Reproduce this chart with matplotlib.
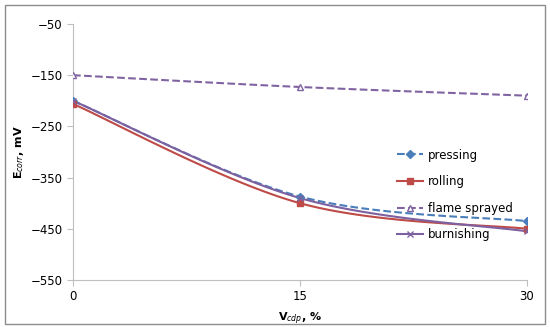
import numpy as np
import matplotlib.pyplot as plt
from matplotlib.patches import Rectangle

x = [0, 15, 30]
pressing = [-200, -387, -435]
rolling = [-206, -400, -450]
flame_sprayed = [-150, -173, -190]
burnishing = [-200, -390, -455]

yticks = [-50, -150, -250, -350, -450, -550]
xticks = [0, 15, 30]


def smooth(xs, ys, n=40):
    # catmull-rom style smoothing, like excel's "smoothed line"
    xs = np.asarray(xs, float)
    ys = np.asarray(ys, float)
    px = np.concatenate([[xs[0]], xs, [xs[-1]]])
    py = np.concatenate([[ys[0]], ys, [ys[-1]]])
    out_x, out_y = [], []
    for i in range(1, len(px) - 2):
        t = np.linspace(0, 1, n)
        p0, p1, p2, p3 = [np.array([px[k], py[k]]) for k in range(i - 1, i + 3)]
        m1 = (p2 - p0) / 6.0
        m2 = (p3 - p1) / 6.0
        c1 = p1 + m1
        c2 = p2 - m2
        b = ((1 - t) ** 3)[:, None] * p1 + (3 * (1 - t) ** 2 * t)[:, None] * c1 \
            + (3 * (1 - t) * t ** 2)[:, None] * c2 + (t ** 3)[:, None] * p2
        out_x.extend(b[:, 0])
        out_y.extend(b[:, 1])
    return out_x, out_y


fig = plt.figure(figsize=(5.5, 3.27), dpi=100)
ax = fig.add_axes([73 / 550, 47 / 327, 454 / 550, 256 / 327])

series = [
    ("pressing", pressing, "#4a7ebb", "--", "D", "#4a7ebb", 4),
    ("rolling", rolling, "#be4b48", "-", "s", "#be4b48", 5),
    ("flame sprayed", flame_sprayed, "#8064a2", "--", "^", "white", 5),
    ("burnishing", burnishing, "#7d60a0", "-", "x", "#7d60a0", 5),
]
for name, ys, col, ls, mk, mfc, ms in series:
    sx, sy = smooth(x, ys)
    ax.plot(sx, sy, color=col, ls=ls, lw=1.5, zorder=2)
    ax.plot(x, ys, ls="none", marker=mk, color=col, mfc=mfc, mec=col,
            ms=ms, zorder=3)
    ax.plot([], [], color=col, ls=ls, lw=1.5, marker=mk, mfc=mfc, mec=col,
            ms=ms, label=name)

ax.set_xlim(0, 30)
ax.set_ylim(-550, -50)
ax.set_xticks(xticks)
ax.set_yticks(yticks)
ax.set_yticklabels(["\u2212" + str(abs(v)) for v in yticks])
for s in ["top", "right"]:
    ax.spines[s].set_visible(False)
for s in ["left", "bottom"]:
    ax.spines[s].set_color("#bfbfbf")
ax.tick_params(colors="#bfbfbf", labelcolor="black", labelsize=8.5, length=4,
               direction="out")
ax.set_xlabel("V$_{cdp}$, %", fontsize=8, fontweight="bold", labelpad=5)
ax.set_ylabel("E$_{corr}$, mV", fontsize=8, fontweight="bold", labelpad=3)

leg = ax.legend(loc="upper left", bbox_to_anchor=(0.69, 0.555), frameon=False,
                fontsize=8.5, handlelength=2.2, handletextpad=0.4,
                labelspacing=1.15)

fig.patches.append(Rectangle((5 / 550, 3 / 327), 540 / 550, 319 / 327,
                             transform=fig.transFigure, fill=False,
                             ec="#8c8c8c", lw=1))

fig.savefig("out.png", dpi=100)
